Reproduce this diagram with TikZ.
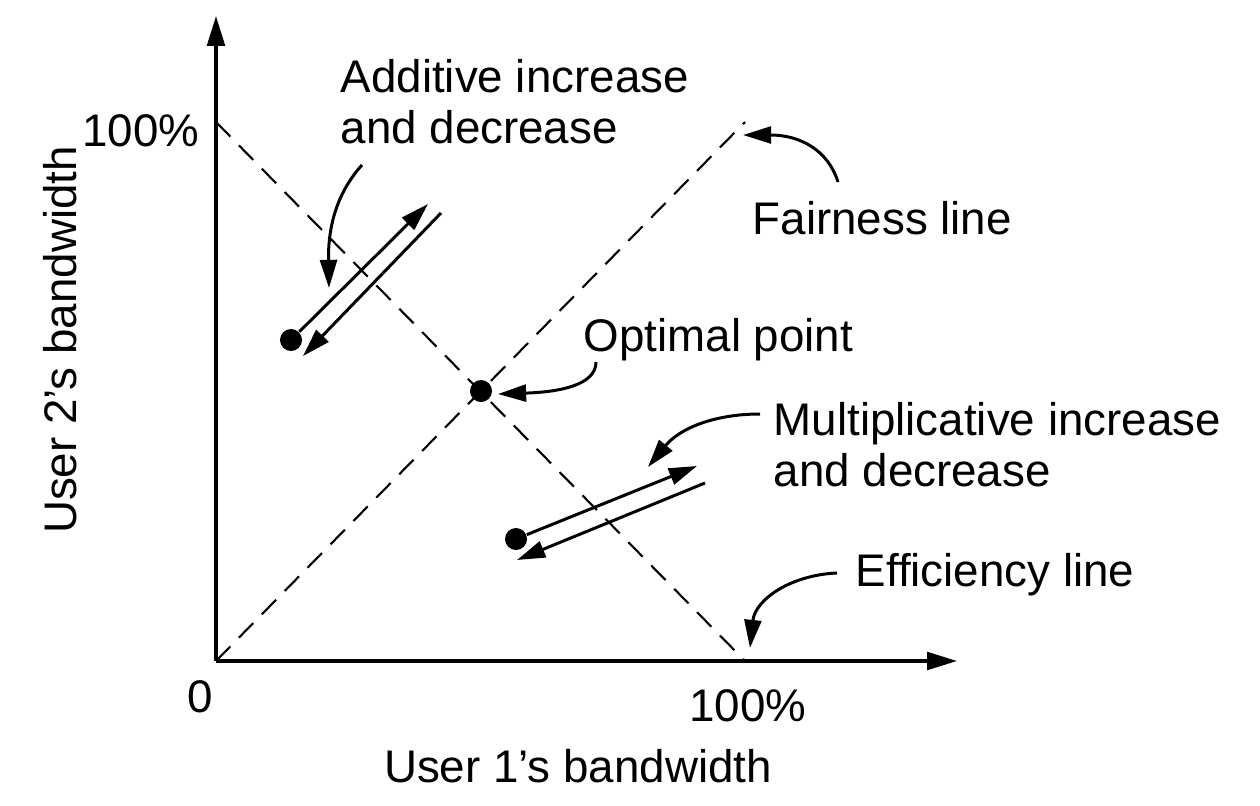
\documentclass[tikz,border=0pt]{standalone}
\usepackage{fontspec}
\setmainfont{Liberation Sans}
\usetikzlibrary{arrows.meta}

\begin{document}
\begin{tikzpicture}[
  x=0.01cm, y=-0.01cm,
  every node/.style={font=\fontsize{13}{14.3}\selectfont, inner sep=0pt},
  axis/.style={line width=1pt, -{Triangle[length=8.5pt,width=5pt]}},
  guide/.style={line width=0.6pt, dash pattern=on 5.8pt off 3.5pt},
  flow/.style={line width=0.85pt, -{Triangle[length=8pt,width=4.8pt]}},
  dot/.style={circle, fill=black, minimum size=0.22cm}
]
\useasboundingbox (0,0) rectangle (1260,806);
% axes
\coordinate (origin) at (216,661);
\coordinate (xend)   at (957,661);
\coordinate (yend)   at (216,16);
\coordinate (xfull)  at (745,661);
\coordinate (yfull)  at (216,122);
\coordinate (fair)   at (745,122);
\draw[axis] (origin) -- (xend);
\draw[axis] (origin) -- (yend);
\draw[guide] (yfull) -- (xfull);
\draw[guide] (origin) -- (fair);
\node (zero)  at (200,697) {0};
\node[anchor=east] (ymax) at (200,131) {100\%};
\node (xmax)  at (748,706) {100\%};
\node (xlab)  at (578,766) {User 1’s bandwidth};
\node[rotate=90] (ylab) at (60,340) {User 2’s bandwidth};
% points
\node[dot] (opt)  at (481,391) {};
\node[dot] (adot) at (291,340) {};
\node[dot] (mdot) at (516,539) {};
% additive increase and decrease
\coordinate (atip)  at (428,204);
\coordinate (aback) at (441,213);
\coordinate (aend)  at (303,356);
\draw[flow] (adot) -- (atip);
\draw[flow] (aback) -- (aend);
% multiplicative increase and decrease
\coordinate (mtip)  at (697,466);
\coordinate (mback) at (705,483);
\coordinate (mend)  at (517,560);
\draw[flow] (mdot) -- (mtip);
\draw[flow] (mback) -- (mend);
% labels
\node[anchor=north west, align=left] (addlab) at (340,59) {Additive increase\\and decrease};
\node[anchor=west] (fairlab) at (752,218) {Fairness line};
\node[anchor=west] (optlab)  at (583,340) {Optimal point};
\node[anchor=north west, align=left] (multlab) at (773,402) {Multiplicative increase\\and decrease};
\node[anchor=west] (efflab)  at (855,575) {Efficiency line};
% pointers
\coordinate (apt) at (362,165);
\coordinate (ahit) at (329,288);
\draw[flow] (apt) .. controls (335,195) and (328,230) .. (ahit);
\coordinate (opt0) at (596,362);
\coordinate (ohit) at (498,394);
\draw[flow] (opt0) .. controls (596,385) and (560,392) .. (ohit);
\coordinate (fpt) at (838,182);
\coordinate (fhit) at (743,135);
\draw[flow] (fpt) .. controls (828,150) and (800,135) .. (fhit);
\coordinate (mpt) at (760,414);
\coordinate (mhit) at (648,467);
\draw[flow] (mpt) .. controls (715,414) and (680,428) .. (mhit);
\coordinate (ept) at (837,573);
\coordinate (ehit) at (750,648);
\draw[flow] (ept) .. controls (790,575) and (755,600) .. (ehit);
\end{tikzpicture}
\end{document}
